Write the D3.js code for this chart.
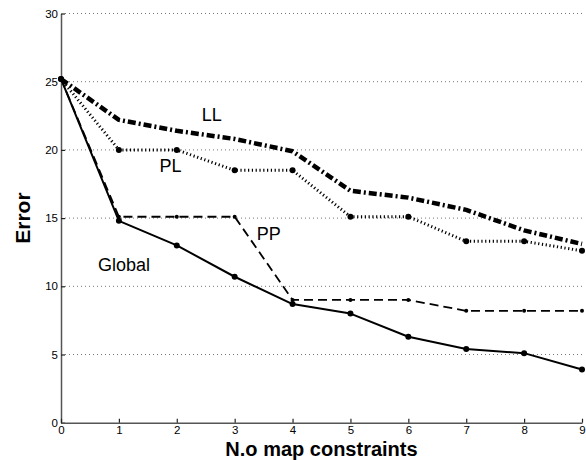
<!DOCTYPE html>
<html>
<head>
<meta charset="utf-8">
<script src="https://cdn.jsdelivr.net/npm/d3@7"></script>
<style>
  html, body { margin: 0; padding: 0; background: #fff; }
  svg { display: block; font-family: "Liberation Sans", Arial, sans-serif; }
</style>
</head>
<body>
<div id="chart"></div>
<script>
// values
const constraints = [0, 1, 2, 3, 4, 5, 6, 7, 8, 9];
const globalErr = [25.2, 14.8, 13.0, 10.7, 8.7, 8.0, 6.3, 5.4, 5.1, 3.9];
const ppErr = [25.2, 15.1, 15.1, 15.1, 9.0, 9.0, 9.0, 8.2, 8.2, 8.2];
const plErr = [25.2, 20.0, 20.0, 18.5, 18.5, 15.1, 15.1, 13.3, 13.3, 12.6];
const llErr = [25.2, 22.2, 21.4, 20.8, 19.9, 17.0, 16.5, 15.6, 14.1, 13.1];
const yTicks = [0, 5, 10, 15, 20, 25, 30];
const seriesNames = ["LL", "PL", "PP", "Global"];
// where each name sits, in data units
const labelAt = [[2.43, 22.1], [1.70, 18.4], [3.38, 13.4], [0.64, 11.1]];

const fullwidth = 586, fullheight = 460;
const margin = {top: 13.5, right: 4, bottom: 37.3, left: 61};

const svg = d3.select("#chart").append("svg")
  .attr("width", fullwidth)
  .attr("height", fullheight);

const x = d3.scaleLinear().domain([0, 9]).range([margin.left, fullwidth - margin.right]);
const y = d3.scaleLinear().domain([0, 30]).range([fullheight - margin.bottom, margin.top]);

// dotted grid
svg.append("g")
  .selectAll("line")
  .data(yTicks.filter(d => d > 0))
  .enter().append("line")
  .attr("x1", x(0) + 4).attr("x2", x(9))
  .attr("y1", d => y(d)).attr("y2", d => y(d))
  .attr("stroke", "#777")
  .attr("stroke-width", 1)
  .attr("stroke-dasharray", "1,3");

// axes
const yAxis = svg.append("g")
  .attr("transform", `translate(${x(0)},0)`)
  .call(d3.axisLeft(y).tickValues(yTicks).tickSizeInner(-4).tickSizeOuter(0).tickPadding(3));
const xAxis = svg.append("g")
  .attr("transform", `translate(0,${y(0)})`)
  .call(d3.axisBottom(x).tickValues(constraints).tickSizeInner(-4).tickSizeOuter(0).tickPadding(3));

[xAxis, yAxis].forEach(ax => {
  ax.select(".domain").attr("stroke", "#555").attr("stroke-width", 1.5);
  ax.selectAll(".tick line").attr("stroke", "#222").attr("stroke-width", 1.2);
  ax.selectAll(".tick text").attr("fill", "#000").style("font-size", "11.5px");
});

// series
const series = [
  {name: "LL", values: llErr, width: 4.5, dash: "8,3,2,3", r: 0},
  {name: "PL", values: plErr, width: 3, dash: "1.2,2.6", r: 3},
  {name: "PP", values: ppErr, width: 1.8, dash: "9,5", r: 2},
  {name: "Global", values: globalErr, width: 2, dash: null, r: 3}
];

const line = d3.line()
  .x((d, i) => x(constraints[i]))
  .y(d => y(d));

series.forEach(s => {
  svg.append("path")
    .datum(s.values)
    .attr("fill", "none")
    .attr("stroke", "#000")
    .attr("stroke-width", s.width)
    .attr("stroke-linejoin", "round")
    .attr("stroke-dasharray", s.dash)
    .attr("d", line);
  if (s.r > 0) {
    svg.append("g").selectAll("circle")
      .data(s.values)
      .enter().append("circle")
      .attr("cx", (d, i) => x(constraints[i]))
      .attr("cy", d => y(d))
      .attr("r", s.r)
      .attr("fill", "#000");
  }
});

// series labels
svg.append("g").selectAll("text")
  .data(seriesNames)
  .enter().append("text")
  .attr("x", (d, i) => x(labelAt[i][0]))
  .attr("y", (d, i) => y(labelAt[i][1]))
  .style("font-size", "18px")
  .text(d => d);

// axis titles
svg.append("text")
  .attr("x", (x(0) + x(9)) / 2)
  .attr("y", 456)
  .attr("text-anchor", "middle")
  .style("font-size", "20px")
  .style("font-weight", "bold")
  .text("N.o map constraints");

svg.append("text")
  .attr("transform", `translate(30,${(y(0) + y(30)) / 2}) rotate(-90)`)
  .attr("text-anchor", "middle")
  .style("font-size", "21px")
  .style("font-weight", "bold")
  .text("Error");
</script>
</body>
</html>
